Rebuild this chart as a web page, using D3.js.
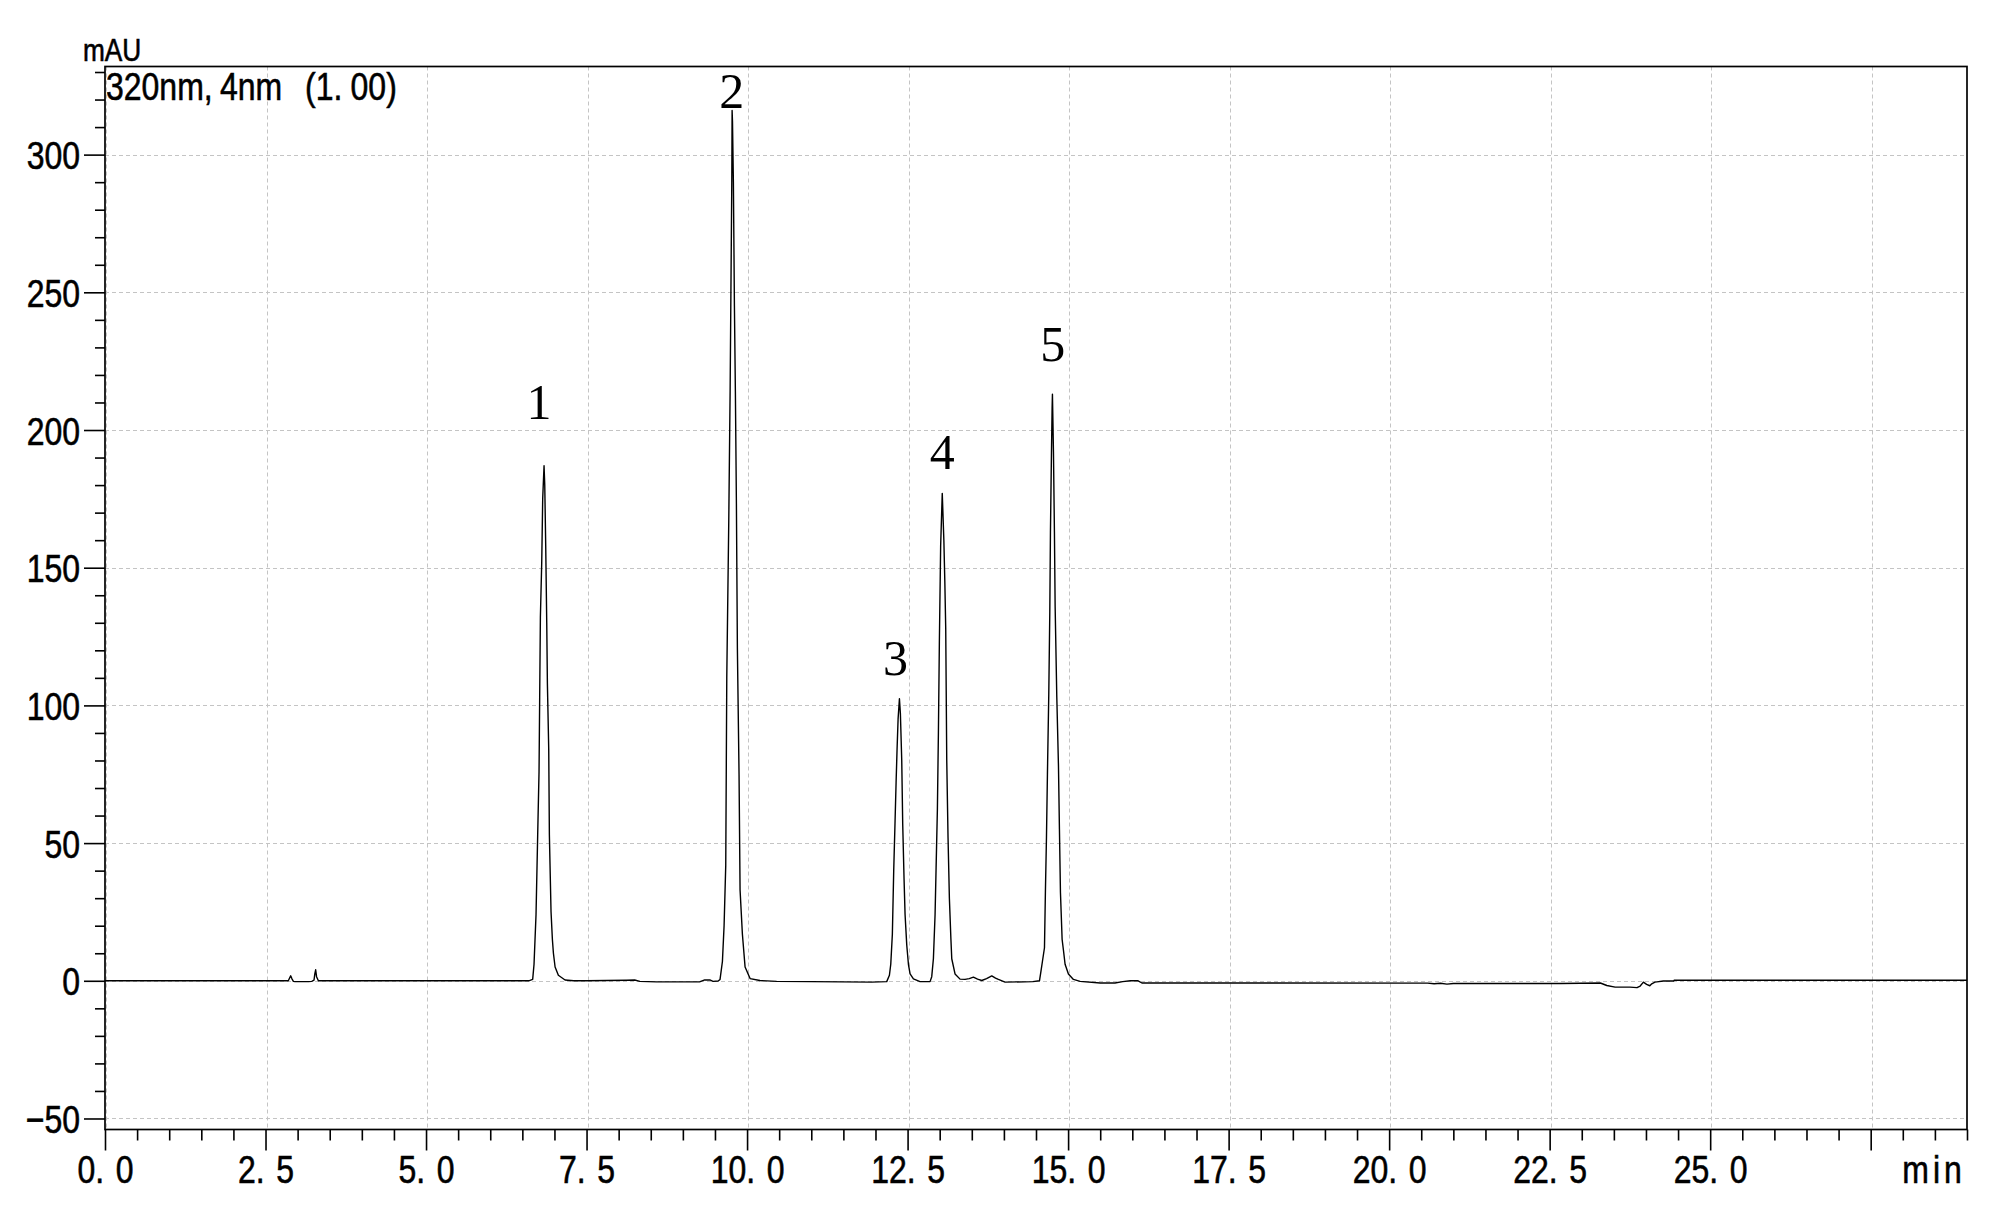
<!DOCTYPE html>
<html><head><meta charset="utf-8">
<script src="https://cdn.jsdelivr.net/npm/d3@7"></script>
<style>html,body{margin:0;padding:0;background:#fff;} svg{display:block;}</style>
</head><body>
<svg id="chart" width="2007" height="1207"></svg>
<script>
// ---- axis definitions ----
const xDomain = [0, 29];
const yDomain = [-54, 332];
const xMajorTicks = [0, 2.5, 5, 7.5, 10, 12.5, 15, 17.5, 20, 22.5, 25, 27.5];
const xTickLabels = ["0.0", "2.5", "5.0", "7.5", "10.0", "12.5", "15.0", "17.5", "20.0", "22.5", "25.0", ""];
const yMajorTicks = [-50, 0, 50, 100, 150, 200, 250, 300];
const yTickLabels = ["\u221250", "0", "50", "100", "150", "200", "250", "300"];
const xGrid = [0, 2.5, 5, 7.5, 10, 12.5, 15, 17.5, 20, 22.5, 25, 27.5];
const yGrid = [-50, 0, 50, 100, 150, 200, 250, 300];

// ---- peak labels: [time, mAU-position of label baseline, label] ----
const peakLabelTimes = [6.76, 9.76, 12.31, 13.04, 14.76];
const peakLabelValues = [204, 317, 111, 186, 225];
const peakLabelTexts = ["1", "2", "3", "4", "5"];

// ---- chromatogram trace, [min, mAU] ----
const traceStart = [[0, 0], [2.855, 0], [2.875, 1.0], [2.892, 1.8], [2.91, 0.8], [2.934, -0.2], [2.96, -0.3],
  [3.17, -0.3], [3.22, -0.2], [3.255, 0.2], [3.268, 2.5], [3.281, 4.0], [3.295, 1.5], [3.323, 0], [5.0, 0], [6.60, 0]];
const tracePeak1 = [[6.661, 0.5], [6.682, 6], [6.713, 24], [6.739, 53], [6.760, 76], [6.770, 103], [6.781, 132],
  [6.802, 152], [6.817, 175], [6.838, 187], [6.849, 180], [6.864, 158], [6.880, 130], [6.890, 108], [6.911, 84],
  [6.921, 53], [6.947, 25], [6.968, 15], [6.984, 10], [7.010, 5], [7.061, 2], [7.165, 0.3], [7.3, 0]];
const traceBetween12 = [[7.5, 0], [8.12, 0.2], [8.25, 0.3], [8.33, -0.2], [8.59, -0.4], [9.26, -0.4], [9.34, 0.3],
  [9.42, 0.3], [9.47, -0.2], [9.55, -0.1]];
const tracePeak2 = [[9.579, 0.5], [9.616, 7], [9.642, 20], [9.668, 42], [9.684, 110], [9.715, 167], [9.736, 214],
  [9.762, 290], [9.767, 316], [9.773, 312], [9.787, 290], [9.803, 245], [9.818, 214], [9.834, 173], [9.849, 121],
  [9.875, 75], [9.891, 33], [9.927, 17], [9.969, 5], [10.047, 0.8], [10.2, 0.1], [10.46, -0.2]];
const traceBetween23 = [[11.0, -0.3], [11.94, -0.5], [12.175, -0.3]];
const tracePeak3 = [[12.217, 2], [12.238, 6], [12.263, 17], [12.284, 40], [12.305, 58], [12.321, 72], [12.336, 84],
  [12.352, 95], [12.373, 102.4], [12.388, 97], [12.409, 80], [12.424, 57], [12.445, 37], [12.461, 24], [12.487, 13],
  [12.513, 6], [12.539, 2.5], [12.591, 0.7], [12.694, -0.3], [12.85, -0.3]];
const tracePeak4 = [[12.876, 1.5], [12.902, 8], [12.928, 24], [12.944, 41], [12.964, 62], [12.980, 90], [12.995, 123],
  [13.015, 158], [13.04, 177], [13.065, 160], [13.08, 145], [13.094, 128], [13.110, 80], [13.130, 52], [13.151, 30],
  [13.175, 15], [13.188, 8], [13.239, 2.5], [13.317, 0.6], [13.395, 0.5], [13.46, 0.8], [13.525, 1.3], [13.59, 0.6],
  [13.655, 0.1], [13.73, 0.8], [13.811, 1.8], [13.87, 1.0], [13.914, 0.5], [14.018, -0.5], [14.45, -0.3]];
const tracePeak5 = [[14.554, 0], [14.574, 3], [14.600, 7], [14.632, 12], [14.647, 33], [14.663, 52], [14.678, 75],
  [14.699, 104], [14.715, 134], [14.725, 163], [14.741, 192], [14.751, 208], [14.756, 213], [14.772, 192],
  [14.787, 163], [14.798, 136], [14.824, 103], [14.850, 78], [14.865, 55], [14.881, 32], [14.907, 15], [14.928, 11],
  [14.953, 6], [15.005, 2.5], [15.083, 0.5], [15.187, -0.2]];
const traceEnd = [[15.5, -0.8], [15.73, -0.8], [15.85, -0.3], [15.97, 0], [16.09, 0], [16.15, -0.8], [20.6, -0.85],
  [20.7, -1.1], [20.8, -0.9], [20.9, -1.2], [21.0, -1.0], [21.2, -1.0], [22.67, -1.0], [23.29, -0.8], [23.39, -1.7],
  [23.52, -2.3], [23.75, -2.3], [23.86, -2.5], [23.91, -1.9], [23.96, -0.5], [24.01, -1.3], [24.06, -1.8],
  [24.09, -1.1], [24.14, -0.5], [24.17, -0.4], [24.27, -0.1], [24.43, -0.1], [24.44, 0.2], [29, 0.2]];

const trace = [].concat(traceStart, tracePeak1, traceBetween12, tracePeak2, traceBetween23,
  tracePeak3, tracePeak4, tracePeak5, traceEnd);

// ---- drawing ----
const svg = d3.select("#chart");
const x = d3.scaleLinear().domain(xDomain).range([105, 1967]);
const y = d3.scaleLinear().domain(yDomain).range([1129.5, 66.5]);
const SANS = "'Liberation Sans', Arial, sans-serif";
const NARROW = 0.82;
const TXT_STROKE = 0.6;

const xMinorTicks = d3.range(0, 29.01, 0.5).filter(v => xMajorTicks.indexOf(v) < 0);
const yMinorTicks = d3.range(-50, 331, 10).filter(v => yMajorTicks.indexOf(v) < 0);

// grid
const grid = svg.append("g").attr("stroke", "#c4c4c4").attr("stroke-width", 1).attr("stroke-dasharray", "4,3");
grid.selectAll("line.h").data(yGrid).join("line").attr("class", "h")
  .attr("x1", x(0)).attr("x2", x(29)).attr("y1", d => Math.round(y(d)) + 0.5).attr("y2", d => Math.round(y(d)) + 0.5);
grid.selectAll("line.v").data(xGrid).join("line").attr("class", "v")
  .attr("y1", y(332)).attr("y2", y(-54)).attr("x1", d => Math.round(x(d)) + 1.5).attr("x2", d => Math.round(x(d)) + 1.5);

// clip
svg.append("clipPath").attr("id", "plotclip").append("rect")
  .attr("x", x(0)).attr("y", y(332)).attr("width", x(29) - x(0)).attr("height", y(-54) - y(332));

// trace
const line = d3.line().x(d => x(d[0])).y(d => y(d[1])).curve(d3.curveLinear);
svg.append("path").datum(trace).attr("clip-path", "url(#plotclip)")
  .attr("fill", "none").attr("stroke", "#000").attr("stroke-width", 1.4).attr("stroke-linejoin", "round")
  .attr("d", line);

// frame
svg.append("rect").attr("x", x(0)).attr("y", y(332)).attr("width", x(29) - x(0)).attr("height", y(-54) - y(332))
  .attr("fill", "none").attr("stroke", "#000").attr("stroke-width", 1.7);

function styleTicks(g) {
  g.select(".domain").remove();
  g.selectAll(".tick line").attr("stroke", "#000").attr("stroke-width", 1.6);
}

// x axis minor & major
svg.append("g").attr("transform", `translate(0,${y(-54)})`)
  .call(d3.axisBottom(x).tickValues(xMinorTicks).tickSize(11).tickFormat(""))
  .call(styleTicks);
const xAxis = svg.append("g").attr("transform", `translate(0,${y(-54)})`)
  .call(d3.axisBottom(x).tickValues(xMajorTicks).tickSize(21).tickFormat((d, i) => xTickLabels[i]))
  .call(styleTicks);
xAxis.selectAll(".tick text").each(function(d, i) {
  const lbl = xTickLabels[i];
  const t = d3.select(this).text(null)
    .attr("y", 53.5).attr("dy", null)
    .attr("transform", `scale(${NARROW},1)`)
    .attr("font-family", SANS).attr("font-size", 39).attr("fill", "#000")
    .attr("stroke", "#000").attr("stroke-width", TXT_STROKE).attr("text-anchor", "middle");
  if (lbl) {
    const p = lbl.indexOf(".");
    t.append("tspan").text(lbl.slice(0, p + 1));
    t.append("tspan").attr("dx", 14).text(lbl.slice(p + 1));
  }
});

// y axis minor & major
svg.append("g").attr("transform", `translate(${x(0)},0)`)
  .call(d3.axisLeft(y).tickValues(yMinorTicks).tickSize(10).tickFormat(""))
  .call(styleTicks);
const yAxis = svg.append("g").attr("transform", `translate(${x(0)},0)`)
  .call(d3.axisLeft(y).tickValues(yMajorTicks).tickSize(21).tickFormat((d, i) => yTickLabels[i]))
  .call(styleTicks);
yAxis.selectAll(".tick text")
  .attr("x", -25 / NARROW).attr("dy", "0.36em")
  .attr("transform", `scale(${NARROW},1)`)
  .attr("font-family", SANS).attr("font-size", 39).attr("fill", "#000")
  .attr("stroke", "#000").attr("stroke-width", TXT_STROKE);

// axis unit labels
svg.append("text").attr("transform", `translate(83,61) scale(${NARROW},1)`)
  .attr("font-family", SANS).attr("font-size", 32).attr("fill", "#000")
  .attr("stroke", "#000").attr("stroke-width", TXT_STROKE).text("mAU");
svg.append("text").attr("transform", `translate(1966,1183) scale(${NARROW},1)`)
  .attr("font-family", SANS).attr("font-size", 39).attr("fill", "#000")
  .attr("stroke", "#000").attr("stroke-width", TXT_STROKE)
  .attr("text-anchor", "end").attr("letter-spacing", 5).text("min");

// channel label
const ch = svg.append("text").attr("transform", `translate(106,100) scale(${NARROW},1)`)
  .attr("font-family", SANS).attr("font-size", 39).attr("fill", "#000")
  .attr("stroke", "#000").attr("stroke-width", TXT_STROKE);
ch.append("tspan").text("320nm,");
ch.append("tspan").attr("dx", 9).text("4nm");
ch.append("tspan").attr("dx", 17).text(" (1.");
ch.append("tspan").attr("dx", 10).text("00)");

// peak labels
svg.append("g").selectAll("text").data(peakLabelTexts).join("text")
  .attr("x", (d, i) => x(peakLabelTimes[i]))
  .attr("y", (d, i) => y(peakLabelValues[i]))
  .attr("text-anchor", "middle")
  .attr("font-family", "'Liberation Serif', 'Times New Roman', serif")
  .attr("font-size", 50).attr("fill", "#000")
  .text(d => d);
</script>
</body></html>
